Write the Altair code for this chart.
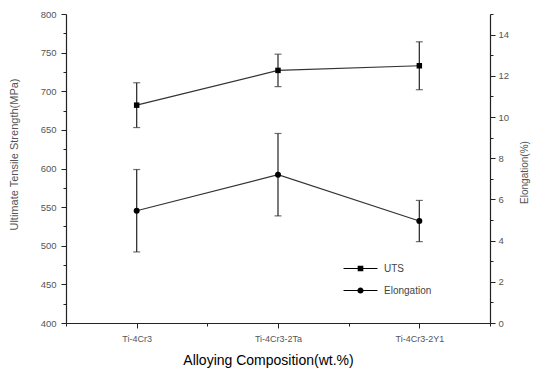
import altair as alt
import pandas as pd

categories = ["Ti-4Cr3", "Ti-4Cr3-2Ta", "Ti-4Cr3-2Y1"]
positions = [1, 2, 3]
uts = [682, 727, 733]
uts_err = [29, 21, 31]
elong = [5.45, 7.2, 4.95]
elong_err = [2.0, 2.0, 1.0]

uts_ticks = list(range(400, 801, 25))
el_ticks = list(range(0, 16))
x_ticks = [0.5, 1, 1.5, 2, 2.5, 3, 3.5]

df_u = pd.DataFrame({"x": positions, "v": uts,
                     "lo": [a - b for a, b in zip(uts, uts_err)],
                     "hi": [a + b for a, b in zip(uts, uts_err)],
                     "series": "UTS"})
df_e = pd.DataFrame({"x": positions, "v": elong,
                     "lo": [a - b for a, b in zip(elong, elong_err)],
                     "hi": [a + b for a, b in zip(elong, elong_err)],
                     "series": "Elongation"})

AX = "#222"
LBL = "#555"
FONT = "Liberation Sans"
label_expr = " : ".join(f"datum.value == {p} ? '{c}'" for p, c in zip(positions, categories)) + " : ''"

x_enc = alt.X("x:Q", scale=alt.Scale(domain=[0.5, 3.5], nice=False, zero=False),
              axis=alt.Axis(values=x_ticks, tickCount=100, labelExpr=label_expr,
                            title="Alloying Composition(wt.%)", grid=False, labelOverlap=False,
                            domainColor=AX, tickColor=AX, domainWidth=1.2, tickWidth=1,
                            tickSize={"expr": "datum.value % 1 == 0 ? 5 : 3"},
                            labelFontSize=9, labelColor=LBL, labelFont=FONT,
                            labelPadding=6, titleFontSize=14, titleFont=FONT,
                            titleFontWeight="normal", titleColor="black",
                            titleX=202, titleY=41, titleBaseline="alphabetic"))

yl_scale = alt.Scale(domain=[400, 800], nice=False, zero=False)
yl_axis = alt.Axis(orient="left", values=uts_ticks, tickCount=100, format="d",
                   labelExpr="datum.value % 50 == 0 ? datum.label : ''",
                   tickSize={"expr": "datum.value % 50 == 0 ? 5 : 3"},
                   labelOverlap=False,
                   title="Ultimate Tensile Strength(MPa)", grid=False,
                   domainColor=AX, tickColor=AX, domainWidth=1.2,
                   labelFontSize=9.5, labelColor=LBL, labelFont=FONT, labelPadding=5,
                   titleFontSize=11, titleColor=LBL, titleFont=FONT,
                   titleFontWeight="normal", titleX=-47, titleY=140)

yr_scale = alt.Scale(domain=[0, 15], nice=False, zero=False)
yr_axis = alt.Axis(orient="right", values=el_ticks, tickCount=100, format="d",
                   labelExpr="datum.value % 2 == 0 ? datum.label : ''",
                   tickSize={"expr": "datum.value % 2 == 0 ? 5 : 3"},
                   labelOverlap=False,
                   title="Elongation(%)", grid=False,
                   domainColor=AX, tickColor=AX, domainWidth=1.2,
                   labelFontSize=9.5, labelColor=LBL, labelFont=FONT, labelPadding=3,
                   titleFontSize=10, titleColor=LBL, titleFont=FONT,
                   titleFontWeight="normal", titleAngle=270, titleBaseline="middle",
                   titleX=34, titleY=158)

LC = "#333"

def series_layer(df, yscale, yaxis):
    base = alt.Chart(df)
    rule = base.mark_rule(color=LC, strokeWidth=1.3).encode(x=x_enc, y=alt.Y("lo:Q", scale=yscale, axis=yaxis), y2="hi:Q")
    cap_lo = base.mark_tick(orient="horizontal", size=7, thickness=1.2, color=LC).encode(x="x:Q", y=alt.Y("lo:Q"))
    cap_hi = base.mark_tick(orient="horizontal", size=7, thickness=1.2, color=LC).encode(x="x:Q", y=alt.Y("hi:Q"))
    line = base.mark_line(color=LC, strokeWidth=1.2).encode(x="x:Q", y="v:Q")
    return rule, cap_lo, cap_hi, line

# legend glyphs "-■-" and "-●-" drawn as filled outlines
sq_path = "M-3,-0.1H-0.5V0.1H-3Z M0.5,-0.1H3V0.1H0.5Z M-0.5,-0.5H0.5V0.5H-0.5Z"
ci_path = ("M-3,-0.1H-0.5V0.1H-3Z M0.5,-0.1H3V0.1H0.5Z "
           "M-0.55,0A0.55,0.55,0,1,1,0.55,0A0.55,0.55,0,1,1,-0.55,0Z")

r1, c1a, c1b, l1 = series_layer(df_u, yl_scale, yl_axis)
p1 = alt.Chart(df_u).mark_square(size=30, color="black", opacity=1).encode(x="x:Q", y="v:Q")
legend_layer = alt.Chart(df_u).transform_filter("false").mark_point(
    filled=True, color="black", opacity=1).encode(
    x="x:Q", y="v:Q",
    shape=alt.Shape("series:N", scale=alt.Scale(domain=["UTS", "Elongation"], range=[sq_path, ci_path]),
                    legend=alt.Legend(title=None, orient="none", legendX=288, legendY=248,
                                      symbolSize=128, labelFontSize=10, labelColor="#444",
                                      labelFont=FONT, rowPadding=9, labelOffset=17,
                                      symbolFillColor="black", symbolOpacity=1)))
left = alt.layer(r1, c1a, c1b, l1, p1, legend_layer)

r2, c2a, c2b, l2 = series_layer(df_e, yr_scale, yr_axis)
p2 = alt.Chart(df_e).mark_circle(size=36, color="black", opacity=1).encode(x="x:Q", y="v:Q")
right = alt.layer(r2, c2a, c2b, l2, p2)

chart = alt.layer(left, right).resolve_scale(y="independent").properties(
    width=424, height=309,
    autosize=alt.AutoSizeParams(type="none"),
    padding={"left": 66, "top": 14, "right": 43, "bottom": 50},
    background="white",
).configure_view(stroke=None)

chart.save("out.html", embed_options={"renderer": "svg", "actions": False})
